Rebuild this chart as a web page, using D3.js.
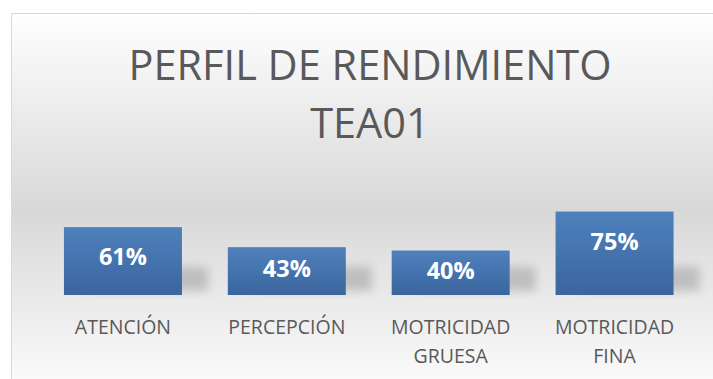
<!DOCTYPE html>
<html>
<head>
<meta charset="utf-8">
<script src="https://cdn.jsdelivr.net/npm/d3@7/dist/d3.min.js"></script>
<style>
  html, body { margin: 0; padding: 0; background: #ffffff; }
  svg { display: block; }
</style>
</head>
<body>
<div id="chart"></div>
<script>
// Performance profile data
const titleLines = ["PERFIL DE RENDIMIENTO", "TEA01"];
const categories = ["ATENCIÓN", "PERCEPCIÓN", "MOTRICIDAD GRUESA", "MOTRICIDAD FINA"];
const values = [0.61, 0.43, 0.40, 0.75];

const W = 713, H = 379;
const svg = d3.select("#chart").append("svg")
  .attr("width", W).attr("height", H);

const defs = svg.append("defs");

// Chart area background: white fading into light grey and back
const bg = defs.append("linearGradient")
  .attr("id", "bgGrad").attr("x1", 0).attr("y1", 0).attr("x2", 0).attr("y2", 1);
bg.append("stop").attr("offset", "0%").attr("stop-color", "#ffffff");
bg.append("stop").attr("offset", "52%").attr("stop-color", "#d8d8d8");
bg.append("stop").attr("offset", "100%").attr("stop-color", "#fdfdfd");

// Bar fill gradient
const bar = defs.append("linearGradient")
  .attr("id", "barGrad").attr("x1", 0).attr("y1", 0).attr("x2", 0).attr("y2", 1);
bar.append("stop").attr("offset", "0%").attr("stop-color", "#4f81bd");
bar.append("stop").attr("offset", "100%").attr("stop-color", "#3b659e");

// Soft shadow blur
defs.append("filter").attr("id", "shadowBlur")
  .attr("x", "-50%").attr("y", "-50%").attr("width", "200%").attr("height", "200%")
  .append("feGaussianBlur").attr("stdDeviation", 5);

svg.append("rect")
  .attr("x", 11.5).attr("y", 13.5)
  .attr("width", W + 10).attr("height", H)
  .attr("fill", "url(#bgGrad)")
  .attr("stroke", "#d9d9d9").attr("stroke-width", 1);

// Title
const title = svg.append("g");
const titleBaselines = [80, 138];
titleLines.forEach((t, i) => {
  title.append("text")
    .attr("x", 370).attr("y", titleBaselines[i])
    .attr("text-anchor", "middle")
    .attr("font-family", "'Open Sans', sans-serif")
    .attr("font-weight", 400)
    .attr("font-size", 41.5)
    .attr("fill", "#595959")
    .text(t);
});

// Scales
const x = d3.scaleBand()
  .domain(categories)
  .range([41, 696.5])
  .paddingInner(0.28)
  .paddingOuter(0.14);

const y = d3.scaleLinear()
  .domain([0, 0.8])
  .range([295, 206]);

const fmt = d3.format(".0%");
const data = categories.map((c, i) => ({ cat: c, v: values[i] }));

// Shadows behind bars
svg.append("g").selectAll("rect")
  .data(data).join("rect")
  .attr("x", d => x(d.cat) + 24)
  .attr("y", d => Math.max(y(d.v), y(0) - 28))
  .attr("width", x.bandwidth() + 2)
  .attr("height", d => y(0) - Math.max(y(d.v), y(0) - 28) - 4)
  .attr("fill", "#000")
  .attr("opacity", 0.17)
  .attr("filter", "url(#shadowBlur)");

// Bars
svg.append("g").selectAll("rect")
  .data(data).join("rect")
  .attr("x", d => x(d.cat))
  .attr("y", d => y(d.v))
  .attr("width", x.bandwidth())
  .attr("height", d => y(0) - y(d.v))
  .attr("fill", "url(#barGrad)");

// Value labels
svg.append("g").selectAll("text")
  .data(data).join("text")
  .attr("x", d => x(d.cat) + x.bandwidth() / 2)
  .attr("y", d => y(d.v) + Math.min((y(0) - y(d.v)) * 0.44, 30))
  .attr("dy", "0.36em")
  .attr("text-anchor", "middle")
  .attr("font-family", "'Open Sans', sans-serif")
  .attr("font-weight", "bold")
  .attr("font-size", 23.5)
  .attr("fill", "#ffffff")
  .text(d => fmt(d.v));

// Category labels, wrapped at spaces
const xAxis = svg.append("g");
categories.forEach(c => {
  const lines = c.split(" ");
  const t = xAxis.append("text")
    .attr("text-anchor", "middle")
    .attr("font-family", "'Open Sans', sans-serif")
    .attr("font-size", 19.5)
    .attr("fill", "#595959");
  lines.forEach((ln, i) => {
    t.append("tspan")
      .attr("x", x(c) + x.bandwidth() / 2)
      .attr("y", 334 + i * 29)
      .text(ln);
  });
});
</script>
</body>
</html>
